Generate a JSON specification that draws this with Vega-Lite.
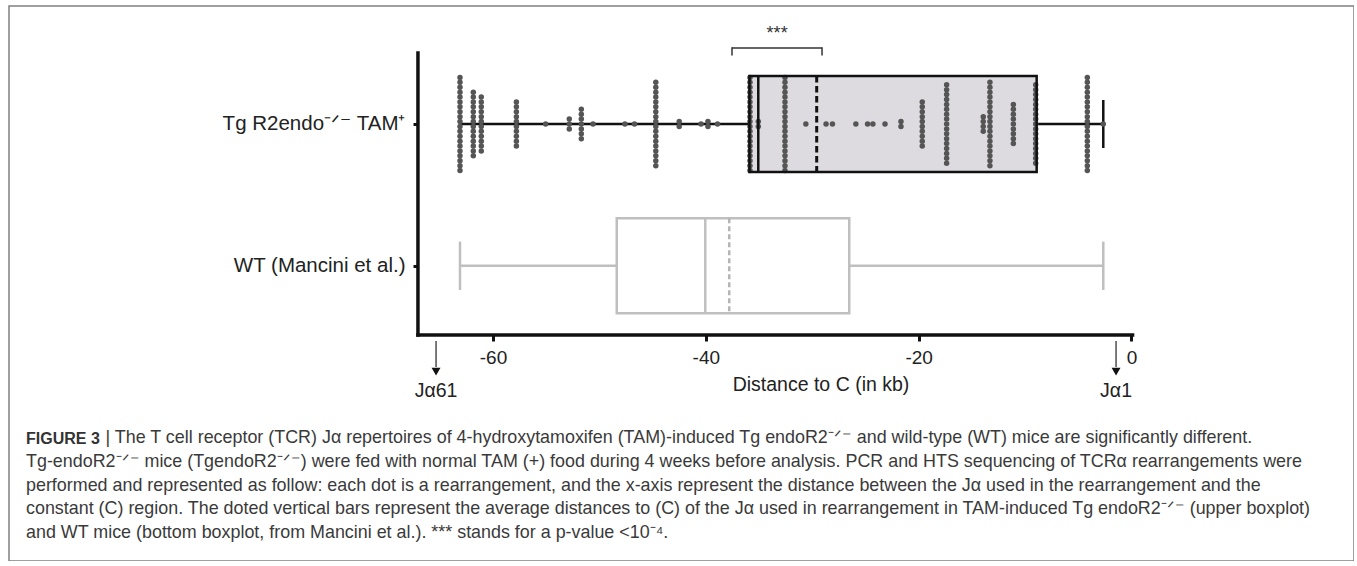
{
  "$schema": "https://vega.github.io/schema/vega-lite/v6.json",
  "width": 1345,
  "height": 555,
  "autosize": "none",
  "padding": {"left": 9, "top": 6, "right": 0, "bottom": 0},
  "background": "white",
  "config": {"view": {"stroke": "#808080", "strokeWidth": 1.5}, "font": "Liberation Sans"},
  "title": {
    "text": "FIGURE 3",
    "subtitle": [
      "\u200b\u00a0\u00a0\u00a0\u00a0\u00a0\u00a0\u00a0\u00a0\u00a0\u00a0\u00a0\u00a0\u00a0\u00a0\u00a0\u00a0| The T cell receptor (TCR) Jα repertoires of 4-hydroxytamoxifen (TAM)-induced Tg endoR2⁻ᐟ⁻ and wild-type (WT) mice are significantly different.",
      "Tg-endoR2⁻ᐟ⁻ mice (TgendoR2⁻ᐟ⁻) were fed with normal TAM (+) food during 4 weeks before analysis. PCR and HTS sequencing of TCRα rearrangements were",
      "performed and represented as follow: each dot is a rearrangement, and the x-axis represent the distance between the Jα used in the rearrangement and the",
      "constant (C) region. The doted vertical bars represent the average distances to (C) of the Jα used in rearrangement in TAM-induced Tg endoR2⁻ᐟ⁻ (upper boxplot)",
      "and WT mice (bottom boxplot, from Mancini et al.). *** stands for a p-value <10⁻⁴."
    ],
    "orient": "bottom",
    "anchor": "start",
    "frame": "group",
    "offset": -130,
    "dx": 17,
    "font": "Liberation Sans",
    "fontSize": 16,
    "fontWeight": "bold",
    "color": "#333333",
    "subtitleFont": "Liberation Sans",
    "subtitleFontSize": 17.9,
    "subtitleColor": "#3a3a3a",
    "subtitleLineHeight": 23.6,
    "subtitlePadding": -17.6
  },
  "datasets": {
    "summary": [
      {"group": "Tg", "min": -63.1, "q1": -35.9, "median": -35.07, "mean": -29.58, "q3": -8.91, "max": -2.65},
      {"group": "WT", "min": -63.1, "q1": -48.37, "median": -40.05, "mean": -37.8, "q3": -26.52, "max": -2.65}
    ],
    "dots": [
      {"kb":-63.1},{"kb":-63.1},{"kb":-63.1},{"kb":-63.1},{"kb":-63.1},{"kb":-63.1},{"kb":-63.1},{"kb":-63.1},{"kb":-63.1},{"kb":-63.1},
      {"kb":-63.1},{"kb":-63.1},{"kb":-63.1},{"kb":-63.1},{"kb":-63.1},{"kb":-63.1},{"kb":-63.1},{"kb":-63.1},{"kb":-63.1},{"kb":-63.1},
      {"kb":-61.85},{"kb":-61.85},{"kb":-61.85},{"kb":-61.85},{"kb":-61.85},{"kb":-61.85},{"kb":-61.85},{"kb":-61.85},{"kb":-61.85},{"kb":-61.85},{"kb":-61.85},{"kb":-61.85},{"kb":-61.85},{"kb":-61.85},
      {"kb":-61.1},{"kb":-61.1},{"kb":-61.1},{"kb":-61.1},{"kb":-61.1},{"kb":-61.1},{"kb":-61.1},{"kb":-61.1},{"kb":-61.1},{"kb":-61.1},{"kb":-61.1},{"kb":-61.1},
      {"kb":-57.8},{"kb":-57.8},{"kb":-57.8},{"kb":-57.8},{"kb":-57.8},{"kb":-57.8},{"kb":-57.8},{"kb":-57.8},{"kb":-57.8},{"kb":-57.8},
      {"kb":-55.05},
      {"kb":-52.83},{"kb":-52.83},{"kb":-52.83},
      {"kb":-51.7},{"kb":-51.7},{"kb":-51.7},{"kb":-51.7},{"kb":-51.7},{"kb":-51.7},{"kb":-51.7},
      {"kb":-50.6},
      {"kb":-47.6},
      {"kb":-46.7},
      {"kb":-44.7},{"kb":-44.7},{"kb":-44.7},{"kb":-44.7},{"kb":-44.7},{"kb":-44.7},{"kb":-44.7},{"kb":-44.7},{"kb":-44.7},
      {"kb":-44.7},{"kb":-44.7},{"kb":-44.7},{"kb":-44.7},{"kb":-44.7},{"kb":-44.7},{"kb":-44.7},{"kb":-44.7},{"kb":-44.7},
      {"kb":-42.5},{"kb":-42.5},
      {"kb":-40.45},
      {"kb":-39.8},{"kb":-39.8},
      {"kb":-38.9},
      {"kb":-35.85},{"kb":-35.85},{"kb":-35.85},{"kb":-35.85},{"kb":-35.85},{"kb":-35.85},{"kb":-35.85},{"kb":-35.85},{"kb":-35.85},{"kb":-35.85},
      {"kb":-35.85},{"kb":-35.85},{"kb":-35.85},{"kb":-35.85},{"kb":-35.85},{"kb":-35.85},{"kb":-35.85},{"kb":-35.85},{"kb":-35.85},{"kb":-35.85},
      {"kb":-35.07},{"kb":-35.07},
      {"kb":-32.56},{"kb":-32.56},{"kb":-32.56},{"kb":-32.56},{"kb":-32.56},{"kb":-32.56},{"kb":-32.56},{"kb":-32.56},{"kb":-32.56},{"kb":-32.56},
      {"kb":-32.56},{"kb":-32.56},{"kb":-32.56},{"kb":-32.56},{"kb":-32.56},{"kb":-32.56},{"kb":-32.56},{"kb":-32.56},{"kb":-32.56},{"kb":-32.56},
      {"kb":-30.6},
      {"kb":-28.7},
      {"kb":-28.1},
      {"kb":-25.9},
      {"kb":-24.8},
      {"kb":-24.3},
      {"kb":-23.16},
      {"kb":-21.66},{"kb":-21.66},
      {"kb":-19.66},{"kb":-19.66},{"kb":-19.66},{"kb":-19.66},{"kb":-19.66},{"kb":-19.66},{"kb":-19.66},{"kb":-19.66},{"kb":-19.66},{"kb":-19.66},
      {"kb":-17.37},{"kb":-17.37},{"kb":-17.37},{"kb":-17.37},{"kb":-17.37},{"kb":-17.37},{"kb":-17.37},{"kb":-17.37},{"kb":-17.37},
      {"kb":-17.37},{"kb":-17.37},{"kb":-17.37},{"kb":-17.37},{"kb":-17.37},{"kb":-17.37},{"kb":-17.37},{"kb":-17.37},
      {"kb":-13.93},{"kb":-13.93},{"kb":-13.93},{"kb":-13.93},
      {"kb":-13.3},{"kb":-13.3},{"kb":-13.3},{"kb":-13.3},{"kb":-13.3},{"kb":-13.3},{"kb":-13.3},{"kb":-13.3},{"kb":-13.3},
      {"kb":-13.3},{"kb":-13.3},{"kb":-13.3},{"kb":-13.3},{"kb":-13.3},{"kb":-13.3},{"kb":-13.3},{"kb":-13.3},{"kb":-13.3},
      {"kb":-11.1},{"kb":-11.1},{"kb":-11.1},{"kb":-11.1},{"kb":-11.1},{"kb":-11.1},{"kb":-11.1},{"kb":-11.1},{"kb":-11.1},
      {"kb":-9.0},{"kb":-9.0},{"kb":-9.0},{"kb":-9.0},{"kb":-9.0},{"kb":-9.0},{"kb":-9.0},{"kb":-9.0},{"kb":-9.0},
      {"kb":-9.0},{"kb":-9.0},{"kb":-9.0},{"kb":-9.0},{"kb":-9.0},{"kb":-9.0},{"kb":-9.0},{"kb":-9.0},
      {"kb":-4.15},{"kb":-4.15},{"kb":-4.15},{"kb":-4.15},{"kb":-4.15},{"kb":-4.15},{"kb":-4.15},{"kb":-4.15},{"kb":-4.15},{"kb":-4.15},
      {"kb":-4.15},{"kb":-4.15},{"kb":-4.15},{"kb":-4.15},{"kb":-4.15},{"kb":-4.15},{"kb":-4.15},{"kb":-4.15},{"kb":-4.15},{"kb":-4.15},
      {"kb":-2.65}
    ],
    "bracket": [{"label": "***", "from": -37.54, "to": -29.08, "at": -33.3}],
    "arrows": [{"label": "Jα61", "kb": -65.35}, {"label": "Jα1", "kb": -1.45}],
    "frame": [{}]
  },
  "layer": [
    {
      "data": {"name": "summary"},
      "transform": [{"filter": "datum.group === 'WT'"}],
      "mark": {"type": "rule", "color": "#bfbfbf", "strokeWidth": 2.5},
      "encoding": {
        "x": {"field": "min", "type": "quantitative", "scale": {"domain": [-105.48, 20.91], "nice": false, "zero": false},
          "axis": {"values": [-60, -40, -20, 0], "labelExpr": "'' + datum.value", "title": "Distance to C (in kb)",
            "titleX": 811.5, "titleY": 55, "titleBaseline": "alphabetic", "titleAlign": "center",
            "titleFont": "Liberation Sans", "titleFontSize": 19.5, "titleFontWeight": "normal", "titleColor": "#222222",
            "domain": false, "grid": false, "offset": -226, "tickSize": 6, "tickWidth": 3, "tickColor": "#111111",
            "labelFont": "Liberation Sans", "labelFontSize": 19, "labelColor": "#222222", "labelPadding": 7, "labelFlush": false}},
        "x2": {"field": "max"},
        "y": {"datum": -18.93, "type": "quantitative", "scale": {"domain": [-79.18, 34.08], "nice": false, "zero": false},
          "axis": {"values": [10, -18.94], "labelExpr": "datum.value > 0 ? 'Tg R2endo⁻ᐟ⁻ TAM⁺' : 'WT (Mancini et al.)'",
            "title": null, "domain": false, "grid": false, "offset": -409, "tickSize": 5, "tickWidth": 3, "tickColor": "#111111",
            "labelFont": "Liberation Sans", "labelFontSize": 20.5, "labelColor": "#222222", "labelPadding": 8, "labelLimit": 400}}
      }
    },
    {
      "data": {"name": "summary"},
      "transform": [{"filter": "datum.group === 'WT'"}, {"fold": ["min", "max"], "as": ["stat", "value"]}],
      "mark": {"type": "rule", "color": "#bfbfbf", "strokeWidth": 2.5},
      "encoding": {
        "x": {"field": "value", "type": "quantitative", "scale": {"domain": [-105.48, 20.91], "nice": false, "zero": false}},
        "y": {"datum": -14.0, "type": "quantitative", "scale": {"domain": [-79.18, 34.08], "nice": false, "zero": false}},
        "y2": {"datum": -23.88}
      }
    },
    {
      "data": {"name": "summary"},
      "transform": [{"filter": "datum.group === 'WT'"}],
      "mark": {"type": "rect", "fill": "white", "stroke": "#bfbfbf", "strokeWidth": 2.5},
      "encoding": {
        "x": {"field": "q1", "type": "quantitative", "scale": {"domain": [-105.48, 20.91], "nice": false, "zero": false}},
        "x2": {"field": "q3"},
        "y": {"datum": -9.24, "type": "quantitative", "scale": {"domain": [-79.18, 34.08], "nice": false, "zero": false}},
        "y2": {"datum": -28.63}
      }
    },
    {
      "data": {"name": "summary"},
      "transform": [{"filter": "datum.group === 'WT'"}],
      "mark": {"type": "rule", "color": "#bfbfbf", "strokeWidth": 2.5},
      "encoding": {
        "x": {"field": "median", "type": "quantitative", "scale": {"domain": [-105.48, 20.91], "nice": false, "zero": false}},
        "y": {"datum": -9.24, "type": "quantitative", "scale": {"domain": [-79.18, 34.08], "nice": false, "zero": false}},
        "y2": {"datum": -28.63}
      }
    },
    {
      "data": {"name": "summary"},
      "transform": [{"filter": "datum.group === 'WT'"}],
      "mark": {"type": "rule", "color": "#b5b5b5", "strokeWidth": 2.5, "strokeDash": [5, 3]},
      "encoding": {
        "x": {"field": "mean", "type": "quantitative", "scale": {"domain": [-105.48, 20.91], "nice": false, "zero": false}},
        "y": {"datum": -9.24, "type": "quantitative", "scale": {"domain": [-79.18, 34.08], "nice": false, "zero": false}},
        "y2": {"datum": -28.63}
      }
    },
    {
      "data": {"name": "summary"},
      "transform": [{"filter": "datum.group === 'Tg'"}],
      "mark": {"type": "rule", "color": "#111111", "strokeWidth": 2.5},
      "encoding": {
        "x": {"field": "min", "type": "quantitative", "scale": {"domain": [-105.48, 20.91], "nice": false, "zero": false}},
        "x2": {"field": "max"},
        "y": {"datum": 10, "type": "quantitative", "scale": {"domain": [-79.18, 34.08], "nice": false, "zero": false}}
      }
    },
    {
      "data": {"name": "summary"},
      "transform": [{"filter": "datum.group === 'Tg'"}],
      "mark": {"type": "rule", "color": "#111111", "strokeWidth": 2.5},
      "encoding": {
        "x": {"field": "max", "type": "quantitative", "scale": {"domain": [-105.48, 20.91], "nice": false, "zero": false}},
        "y": {"datum": 14.9, "type": "quantitative", "scale": {"domain": [-79.18, 34.08], "nice": false, "zero": false}},
        "y2": {"datum": 5.1}
      }
    },
    {
      "data": {"name": "summary"},
      "transform": [{"filter": "datum.group === 'Tg'"}],
      "mark": {"type": "rect", "fill": "#dddbe0", "stroke": null},
      "encoding": {
        "x": {"field": "q1", "type": "quantitative", "scale": {"domain": [-105.48, 20.91], "nice": false, "zero": false}},
        "x2": {"field": "q3"},
        "y": {"datum": 19.8, "type": "quantitative", "scale": {"domain": [-79.18, 34.08], "nice": false, "zero": false}},
        "y2": {"datum": 0.2}
      }
    },
    {
      "data": {"name": "dots"},
      "transform": [{"window": [{"op": "row_number", "as": "id"}]}],
      "mark": {"type": "circle", "size": 30, "color": "#555555", "opacity": 1, "yOffset": 2.45},
      "encoding": {
        "x": {"field": "kb", "type": "quantitative", "scale": {"domain": [-105.48, 20.91], "nice": false, "zero": false}},
        "y": {"aggregate": "count", "type": "quantitative", "stack": "center", "scale": {"domain": [-79.18, 34.08], "nice": false, "zero": false}},
        "detail": {"field": "id", "type": "quantitative"}
      }
    },
    {
      "data": {"name": "summary"},
      "transform": [{"filter": "datum.group === 'Tg'"}],
      "mark": {"type": "rect", "fill": null, "fillOpacity": 0, "stroke": "#111111", "strokeWidth": 2.5},
      "encoding": {
        "x": {"field": "q1", "type": "quantitative", "scale": {"domain": [-105.48, 20.91], "nice": false, "zero": false}},
        "x2": {"field": "q3"},
        "y": {"datum": 19.8, "type": "quantitative", "scale": {"domain": [-79.18, 34.08], "nice": false, "zero": false}},
        "y2": {"datum": 0.2}
      }
    },
    {
      "data": {"name": "summary"},
      "transform": [{"filter": "datum.group === 'Tg'"}],
      "mark": {"type": "rule", "color": "#111111", "strokeWidth": 2.5},
      "encoding": {
        "x": {"field": "median", "type": "quantitative", "scale": {"domain": [-105.48, 20.91], "nice": false, "zero": false}},
        "y": {"datum": 19.8, "type": "quantitative", "scale": {"domain": [-79.18, 34.08], "nice": false, "zero": false}},
        "y2": {"datum": 0.2}
      }
    },
    {
      "data": {"name": "summary"},
      "transform": [{"filter": "datum.group === 'Tg'"}],
      "mark": {"type": "rule", "color": "#111111", "strokeWidth": 3, "strokeDash": [6.5, 3.5]},
      "encoding": {
        "x": {"field": "mean", "type": "quantitative", "scale": {"domain": [-105.48, 20.91], "nice": false, "zero": false}},
        "y": {"datum": 19.8, "type": "quantitative", "scale": {"domain": [-79.18, 34.08], "nice": false, "zero": false}},
        "y2": {"datum": 0.2}
      }
    },
    {
      "data": {"name": "frame"},
      "mark": {"type": "rule", "color": "#111111", "strokeWidth": 3.5, "strokeCap": "square"},
      "encoding": {
        "x": {"datum": -67.05, "type": "quantitative", "scale": {"domain": [-105.48, 20.91], "nice": false, "zero": false}},
        "x2": {"datum": 0.1},
        "y": {"datum": -33.06, "type": "quantitative", "scale": {"domain": [-79.18, 34.08], "nice": false, "zero": false}}
      }
    },
    {
      "data": {"name": "frame"},
      "mark": {"type": "rule", "color": "#111111", "strokeWidth": 3.5, "strokeCap": "square"},
      "encoding": {
        "x": {"datum": -67.05, "type": "quantitative", "scale": {"domain": [-105.48, 20.91], "nice": false, "zero": false}},
        "y": {"datum": 24.49, "type": "quantitative", "scale": {"domain": [-79.18, 34.08], "nice": false, "zero": false}},
        "y2": {"datum": -33.06}
      }
    },
    {
      "data": {"name": "bracket"},
      "mark": {"type": "rule", "color": "#333333", "strokeWidth": 1.5},
      "encoding": {
        "x": {"field": "from", "type": "quantitative", "scale": {"domain": [-105.48, 20.91], "nice": false, "zero": false}},
        "x2": {"field": "to"},
        "y": {"datum": 25.51, "type": "quantitative", "scale": {"domain": [-79.18, 34.08], "nice": false, "zero": false}}
      }
    },
    {
      "data": {"name": "bracket"},
      "transform": [{"fold": ["from", "to"], "as": ["end", "value"]}],
      "mark": {"type": "rule", "color": "#333333", "strokeWidth": 1.5},
      "encoding": {
        "x": {"field": "value", "type": "quantitative", "scale": {"domain": [-105.48, 20.91], "nice": false, "zero": false}},
        "y": {"datum": 25.66, "type": "quantitative", "scale": {"domain": [-79.18, 34.08], "nice": false, "zero": false}},
        "y2": {"datum": 24.0}
      }
    },
    {
      "data": {"name": "bracket"},
      "mark": {"type": "text", "font": "Liberation Sans", "fontSize": 18, "color": "#333333", "baseline": "alphabetic", "align": "center"},
      "encoding": {
        "x": {"field": "at", "type": "quantitative", "scale": {"domain": [-105.48, 20.91], "nice": false, "zero": false}},
        "y": {"datum": 27.3, "type": "quantitative", "scale": {"domain": [-79.18, 34.08], "nice": false, "zero": false}},
        "text": {"field": "label"}
      }
    },
    {
      "data": {"name": "arrows"},
      "mark": {"type": "rule", "color": "#333333", "strokeWidth": 1.3},
      "encoding": {
        "x": {"field": "kb", "type": "quantitative", "scale": {"domain": [-105.48, 20.91], "nice": false, "zero": false}},
        "y": {"datum": -34.29, "type": "quantitative", "scale": {"domain": [-79.18, 34.08], "nice": false, "zero": false}},
        "y2": {"datum": -39.6}
      }
    },
    {
      "data": {"name": "arrows"},
      "mark": {"type": "point", "shape": "triangle-down", "filled": true, "size": 80, "color": "#111111", "opacity": 1},
      "encoding": {
        "x": {"field": "kb", "type": "quantitative", "scale": {"domain": [-105.48, 20.91], "nice": false, "zero": false}},
        "y": {"datum": -40.51, "type": "quantitative", "scale": {"domain": [-79.18, 34.08], "nice": false, "zero": false}}
      }
    },
    {
      "data": {"name": "arrows"},
      "mark": {"type": "text", "font": "Liberation Sans", "fontSize": 19.5, "color": "#222222", "baseline": "alphabetic", "align": "center"},
      "encoding": {
        "x": {"field": "kb", "type": "quantitative", "scale": {"domain": [-105.48, 20.91], "nice": false, "zero": false}},
        "y": {"datum": -45.71, "type": "quantitative", "scale": {"domain": [-79.18, 34.08], "nice": false, "zero": false}},
        "text": {"field": "label"}
      }
    }
  ]
}
